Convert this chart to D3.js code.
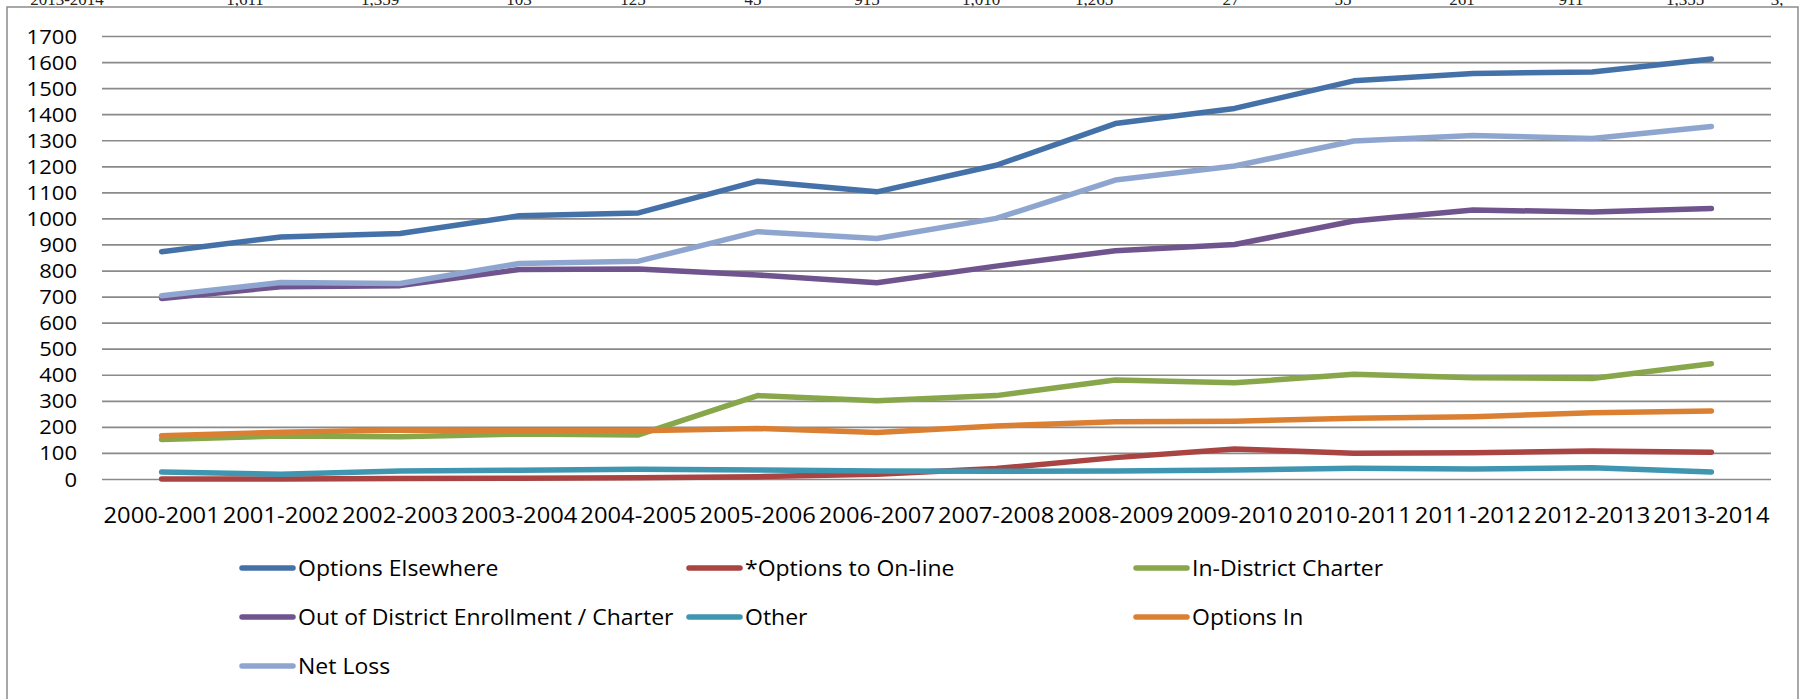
<!DOCTYPE html>
<html>
<head>
<meta charset="utf-8">
<script src="https://cdn.jsdelivr.net/npm/d3@7"></script>
<style>
  html, body { margin: 0; padding: 0; background: #ffffff; }
  svg { display: block; }
</style>
</head>
<body>
<svg id="chart" width="1805" height="699"></svg>
<script>
// ---------- DATA ----------
const categories = ["2000-2001","2001-2002","2002-2003","2003-2004","2004-2005","2005-2006","2006-2007",
                    "2007-2008","2008-2009","2009-2010","2010-2011","2011-2012","2012-2013","2013-2014"];
const optionsElsewhere = [872, 929, 942, 1010, 1021, 1143, 1102, 1204, 1364, 1422, 1528, 1556, 1562, 1612];
const optionsOnline    = [0, 0, 2, 3, 5, 9, 18, 40, 82, 115, 99, 101, 107, 103];
const inDistrictCharter= [152, 165, 162, 173, 169, 320, 300, 320, 380, 369, 402, 389, 386, 442];
const outOfDistrict    = [693, 738, 742, 804, 806, 783, 753, 817, 876, 900, 990, 1032, 1025, 1038];
const other            = [27, 18, 31, 34, 37, 35, 31, 30, 31, 35, 41, 38, 43, 27];
const optionsIn        = [166, 179, 188, 185, 185, 194, 178, 203, 220, 222, 233, 239, 254, 261];
const netLoss          = [703, 754, 750, 827, 836, 949, 923, 1000, 1147, 1201, 1297, 1318, 1307, 1353];
const seriesNames  = ["Options Elsewhere","*Options to On-line","In-District Charter",
                      "Out of District Enrollment / Charter","Other","Options In","Net Loss"];
const seriesValues = [optionsElsewhere, optionsOnline, inDistrictCharter, outOfDistrict, other, optionsIn, netLoss];
const seriesColors = ["#4472A8","#A94442","#88A74A","#6F548E","#3E96B0","#DB8033","#8EA6CF"];
const yTicks = d3.range(0, 1701, 100);
// partially visible table row above the chart (cut off by the page edge)
const tableRow = ["2013-2014","1,611","1,359","103","125","45","915","1,010","1,265","27","55","261","911","1,355","3,"];

// ---------- LAYOUT ----------
const svg = d3.select("#chart");
const plot = {left: 102, right: 1771, top: 36, bottom: 479};
const fontFamily = "'Open Sans', 'Noto Sans', sans-serif";
const stretch = 1.07;

// table fragment at very top
const tableX = [67, 245, 380, 519, 633, 753, 867, 981, 1094, 1231, 1343, 1462, 1571, 1685, 1777];
svg.append("g").selectAll("text").data(tableRow).join("text")
  .attr("x", (d,i) => tableX[i]).attr("y", 5)
  .attr("text-anchor", "middle")
  .attr("font-family", "'Liberation Serif', serif")
  .attr("font-size", 17)
  .attr("fill", "#222")
  .text(d => d);

// chart area border
svg.append("rect")
  .attr("x", 7).attr("y", 7).attr("width", 1791).attr("height", 720)
  .attr("fill", "none").attr("stroke", "#8c8c8c").attr("stroke-width", 1.5);

const x = d3.scaleBand().domain(categories).range([plot.left, plot.right]).paddingInner(0).paddingOuter(0);
const xc = c => x(c) + x.bandwidth() / 2;
const y = d3.scaleLinear().domain([0, 1700]).range([plot.bottom, plot.top]);

// gridlines via axis
const yAxis = d3.axisLeft(y).tickValues(yTicks).tickSize(-(plot.right - plot.left)).tickPadding(25).tickFormat(d3.format("d"));
const gy = svg.append("g").attr("transform", `translate(${plot.left},0)`).call(yAxis);
gy.select(".domain").remove();
gy.selectAll(".tick line").attr("stroke", "#8a8a8a").attr("stroke-width", 1.7);
gy.selectAll(".tick text")
  .attr("font-family", fontFamily).attr("font-size", 19.5).attr("fill", "#000")
  .attr("x", null).attr("dy", "0.36em")
  .attr("transform", `translate(-25,0) scale(1.13,1)`);

// x axis labels
const xAxis = d3.axisBottom(x).tickSize(0).tickPadding(0);
const gx = svg.append("g").attr("transform", `translate(0,${plot.bottom})`).call(xAxis);
gx.select(".domain").remove();
gx.selectAll(".tick text")
  .attr("font-family", fontFamily).attr("font-size", 22.4).attr("fill", "#000")
  .attr("y", null).attr("dy", null)
  .attr("transform", `translate(0,44) scale(1.06,1)`);

// lines
const line = d3.line().x((d,i) => xc(categories[i])).y(d => y(d));
svg.append("g").selectAll("path").data(seriesValues).join("path")
  .attr("d", d => line(d))
  .attr("fill", "none")
  .attr("stroke", (d,i) => seriesColors[i])
  .attr("stroke-width", 5.5)
  .attr("stroke-linejoin", "round")
  .attr("stroke-linecap", "round");

// legend
const legendCols = [240, 687, 1134];
const legendRows = [568, 617, 666];
const lg = svg.append("g").selectAll("g").data(seriesNames).join("g")
  .attr("transform", (d,i) => `translate(${legendCols[i % 3]},${legendRows[Math.floor(i / 3)]})`);
lg.append("line").attr("x1", 2).attr("x2", 53).attr("y1", 0).attr("y2", 0)
  .attr("stroke", (d,i) => seriesColors[i]).attr("stroke-width", 5.5).attr("stroke-linecap", "round");
lg.append("text")
  .attr("transform", "translate(58,0) scale(1.045,1)")
  .attr("dy", "0.36em")
  .attr("font-family", fontFamily).attr("font-size", 22).attr("fill", "#000")
  .text(d => d);
</script>
</body>
</html>
